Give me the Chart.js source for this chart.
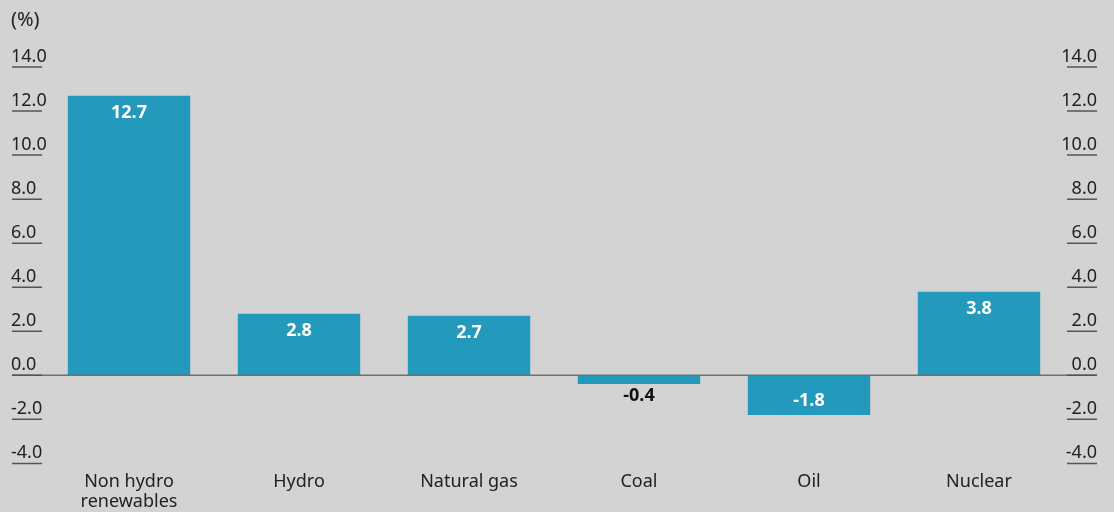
<!DOCTYPE html>
<html>
<head>
<meta charset="utf-8">
<script src="https://cdn.jsdelivr.net/npm/chart.js@4/dist/chart.umd.min.js"></script>
<style>
  html, body { margin: 0; padding: 0; background: #d3d3d3; }
  #wrap { position: relative; width: 1114px; height: 512px; }
</style>
</head>
<body>
<div id="wrap"><canvas id="chart" width="1114" height="512"></canvas></div>
<script>
const categories = [['Non hydro', 'renewables'], 'Hydro', 'Natural gas', 'Coal', 'Oil', 'Nuclear'];
const growth = [12.7, 2.8, 2.7, -0.4, -1.8, 3.8];
const tickValues = [14, 12, 10, 8, 6, 4, 2, 0, -2, -4];

const FONT = '"Noto Sans", "Open Sans", sans-serif';
const BAR = '#2399bb';

// side tick labels with a short rule under each, plus the zero line
const sideTicks = {
    id: 'sideTicks',
    afterDraw(chart) {
        const ctx = chart.ctx;
        const y = chart.scales.y;
        ctx.save();

        const zero = y.getPixelForValue(0);
        ctx.strokeStyle = '#707070';
        ctx.lineWidth = 1.6;
        ctx.beginPath();
        ctx.moveTo(12, zero);
        ctx.lineTo(1097, zero);
        ctx.stroke();

        ctx.font = '18px ' + FONT;
        ctx.fillStyle = '#222';
        ctx.textBaseline = 'alphabetic';
        tickValues.forEach(v => {
            const py = y.getPixelForValue(v);
            const label = v.toFixed(1);
            ctx.strokeStyle = '#555';
            ctx.lineWidth = 1.5;
            ctx.beginPath();
            ctx.moveTo(12, py);
            ctx.lineTo(42, py);
            ctx.moveTo(1067, py);
            ctx.lineTo(1097, py);
            ctx.stroke();

            ctx.textAlign = 'left';
            ctx.fillText(label, 11, py - 5);
            ctx.textAlign = 'right';
            ctx.fillText(label, 1097, py - 5);
        });

        ctx.textAlign = 'left';
        ctx.font = '20px ' + FONT;
        ctx.fillText('(%)', 11, 26);
        ctx.restore();
    }
};

// value labels: inside the bar when there is room, else just below it
const barValues = {
    id: 'barValues',
    afterDatasetsDraw(chart) {
        const ctx = chart.ctx;
        const meta = chart.getDatasetMeta(0);
        ctx.save();
        ctx.font = 'bold 18px ' + FONT;
        ctx.textAlign = 'center';
        ctx.textBaseline = 'middle';
        meta.data.forEach((bar, i) => {
            const v = growth[i];
            const h = Math.abs(bar.base - bar.y);
            const text = v.toFixed(1);
            if (h < 28) {
                ctx.fillStyle = '#111';
                ctx.fillText(text, bar.x, Math.max(bar.y, bar.base) + 12);
            } else if (v >= 0) {
                ctx.fillStyle = '#fff';
                ctx.fillText(text, bar.x, bar.y + 17);
            } else {
                ctx.fillStyle = '#fff';
                ctx.fillText(text, bar.x, bar.y - 14);
            }
        });
        ctx.restore();
    }
};

new Chart(document.getElementById('chart'), {
    type: 'bar',
    data: {
        labels: categories,
        datasets: [{
            data: growth,
            backgroundColor: BAR,
            borderWidth: 0,
            categoryPercentage: 1,
            barPercentage: 0.72
        }]
    },
    options: {
        responsive: false,
        animation: false,
        layout: { padding: { left: 44, right: 50, top: 67, bottom: -9 } },
        plugins: {
            legend: { display: false },
            tooltip: { enabled: false }
        },
        scales: {
            x: {
                grid: { display: false, drawTicks: false },
                border: { display: false },
                ticks: {
                    color: '#222',
                    padding: 9,
                    font: { family: FONT, size: 18, lineHeight: 1.1 },
                    maxRotation: 0,
                    autoSkip: false
                }
            },
            y: {
                display: false,
                min: -4,
                max: 14
            }
        }
    },
    plugins: [sideTicks, barValues]
});
</script>
</body>
</html>
